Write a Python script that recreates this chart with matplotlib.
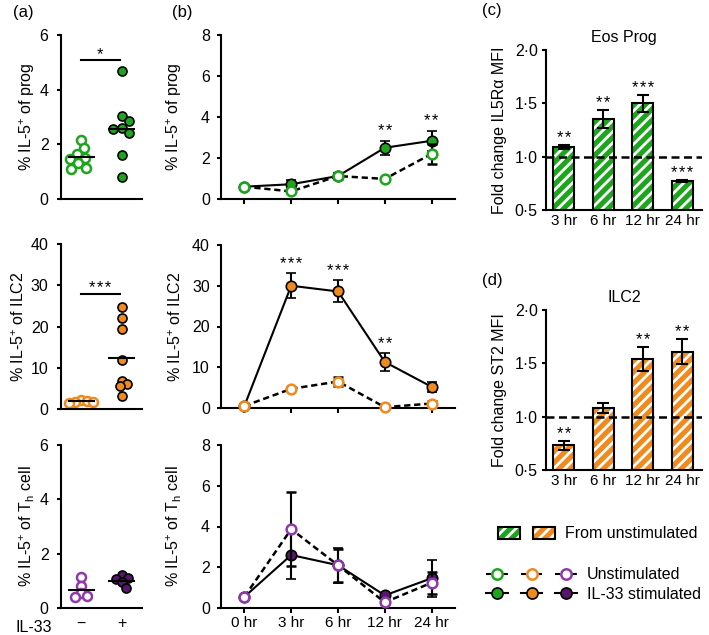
import numpy as np
import matplotlib
matplotlib.use('agg')
import matplotlib.pyplot as plt
from matplotlib.patches import Patch
from matplotlib.lines import Line2D
from matplotlib.legend_handler import HandlerTuple

plt.rcParams['font.family'] = ['Liberation Sans', 'DejaVu Sans']
plt.rcParams['mathtext.fontset'] = 'custom'
plt.rcParams['mathtext.rm'] = 'Liberation Sans'
plt.rcParams['mathtext.it'] = 'Liberation Sans:italic'
plt.rcParams['mathtext.bf'] = 'Liberation Sans:bold'
plt.rcParams['font.size'] = 11
plt.rcParams['axes.linewidth'] = 1.5
plt.rcParams['hatch.linewidth'] = 2.0

green = '#1ea51e'
orange = '#f08a1c'
purple = '#8e3aa8'
dark_purple = '#55166b'

# (a) single mice, % IL-5+
prog_unstim = [2.15, 1.85, 1.65, 1.5, 1.45, 1.3, 1.15, 1.1]
prog_il33 = [4.7, 3.05, 2.85, 2.6, 2.55, 2.4, 1.6, 0.8]
ilc2_unstim = [2.3, 2.0, 1.8, 1.6, 1.5]
ilc2_il33 = [24.8, 22.0, 19.3, 12.0, 6.9, 6.0, 5.5, 3.2]
th_unstim = [1.15, 0.8, 0.55, 0.45, 0.4]
th_il33 = [1.2, 1.1, 1.05, 0.95, 0.75]

# (b) time course
times = ['0 hr', '3 hr', '6 hr', '12 hr', '24 hr']
prog_t_il33 = [0.6, 0.72, 1.12, 2.5, 2.84]
prog_t_il33_err = [0.05, 0.2, 0.15, 0.35, 0.5]
prog_t_unstim = [0.6, 0.37, 1.12, 0.98, 2.2]
prog_t_unstim_err = [0.05, 0.05, 0.12, 0.05, 0.5]
prog_t_stars = ['', '', '', '**', '**']

ilc2_t_il33 = [0.5, 30.0, 28.6, 11.3, 5.2]
ilc2_t_il33_err = [0.2, 3.1, 2.7, 2.2, 1.2]
ilc2_t_unstim = [0.5, 4.7, 6.5, 0.2, 1.1]
ilc2_t_unstim_err = [0.2, 0.4, 1.2, 0.2, 0.6]
ilc2_t_stars = ['', '***', '***', '**', '']

th_t_il33 = [0.55, 2.6, 2.1, 0.62, 1.46]
th_t_il33_err = [0.05, 1.17, 0.85, 0.1, 0.9]
th_t_unstim = [0.55, 3.87, 2.1, 0.28, 1.24]
th_t_unstim_err = [0.05, 1.83, 0.8, 0.1, 0.55]

# (c), (d) fold change of MFI vs unstimulated
bar_times = ['3 hr', '6 hr', '12 hr', '24 hr']
eos_fold = [1.09, 1.35, 1.50, 0.77]
eos_err = [0.02, 0.085, 0.08, 0.01]
eos_stars = ['**', '**', '***', '***']
st2_fold = [0.73, 1.08, 1.54, 1.61]
st2_err = [0.04, 0.045, 0.11, 0.12]
st2_stars = ['**', '', '**', '**']
bar_ticks = [0.5, 1.0, 1.5, 2.0]

W, H = 709, 635
fig = plt.figure(figsize=(W / 100, H / 100), dpi=100)

TICK_FS = 11.5
LABEL_FS = 11.5
STAR_FS = 12


def add_ax(l, r, t, b):
    return fig.add_axes([l / W, 1 - b / H, (r - l) / W, (b - t) / H])


def style(ax, pad):
    ax.spines['top'].set_visible(False)
    ax.spines['right'].set_visible(False)
    ax.tick_params(direction='out', width=1.5, length=3, pad=pad, labelsize=TICK_FS)


def stars_text(s):
    return '\u200a'.join(s)


def swarm(ax, vals, x0, d):
    # simple beeswarm: shift each point sideways until it no longer overlaps
    placed = []
    xs = []
    inv = ax.transData.inverted()
    steps = [0] + [s * k for k in range(1, 40) for s in (1, -1)]
    for v in vals:
        px, py = ax.transData.transform((x0, v))
        for st in steps:
            cx = px + st
            if all((cx - qx) ** 2 + (py - qy) ** 2 >= d * d for qx, qy in placed):
                break
        placed.append((cx, py))
        xs.append(inv.transform((cx, py))[0])
    return xs


def scatter_panel(ax, unstim, stim, edge, fill, ymax, yticks, ylabel, lab_x, bracket=None, d=8.5):
    style(ax, 6)
    ax.set_xlim(0.5, 2.5)
    ax.set_ylim(0, ymax)
    ax.set_yticks(yticks)
    ax.tick_params(axis='x', length=0)
    xs = swarm(ax, unstim, 1, d)
    ax.plot(xs, unstim, 'o', ms=6.5, mfc='white', mec=edge, mew=1.8, clip_on=False, zorder=2)
    xs = swarm(ax, stim, 2, d)
    ax.plot(xs, stim, 'o', ms=6.5, mfc=fill, mec='black', mew=1.2, clip_on=False, zorder=2)
    for pos, vals in [(1, unstim), (2, stim)]:
        ax.hlines(np.mean(vals), pos - 0.33, pos + 0.33, color='black', lw=1.5, zorder=3)
    if bracket is not None:
        yb, txt = bracket
        ax.plot([1.0, 1.95], [yb, yb], color='black', lw=1.5)
        ax.annotate(stars_text(txt), (1.47, yb), xytext=(0, 0.5), textcoords='offset points',
                    ha='center', va='baseline', fontsize=STAR_FS)
    ax.set_ylabel(ylabel, fontsize=LABEL_FS)
    ax.yaxis.set_label_coords(lab_x, 0.5)


a1 = add_ax(61, 142, 35, 199)
scatter_panel(a1, prog_unstim, prog_il33, green, green, 6, [0, 2, 4, 6],
              '% IL-5$^{+}$ of prog', -0.3, (5.1, '*'))
a1.set_xticks([])
a2 = add_ax(61, 142, 244, 409)
scatter_panel(a2, ilc2_unstim, ilc2_il33, orange, orange, 40, [0, 10, 20, 30, 40],
              '% IL-5$^{+}$ of ILC2', -0.42, (27.9, '***'), d=6)
a2.set_xticks([])
a3 = add_ax(61, 142, 445, 608)
scatter_panel(a3, th_unstim, th_il33, purple, dark_purple, 6, [0, 2, 4, 6],
              '% IL-5$^{+}$ of T$_{\\mathrm{h}}$ cell', -0.3, d=6.5)
a3.set_xticks([1, 2])
a3.set_xticklabels(['\u2212', '+'])
a3.tick_params(axis='x', pad=6)
a3.text(-0.11, -0.117, 'IL-33', transform=a3.transAxes, ha='right', va='center', fontsize=TICK_FS)

xt = np.arange(len(times))


def time_panel(ax, stim, stim_err, unstim, unstim_err, edge, fill, ymax, ylabel, stars=None):
    style(ax, 5)
    ax.set_xlim(-0.5, 4.5)
    ax.set_ylim(0, ymax)
    ax.set_yticks(np.linspace(0, ymax, 5))
    ax.set_xticks(xt)
    ax.tick_params(axis='x', length=3.6, pad=2)
    ax.errorbar(xt, stim, yerr=stim_err, color='black', lw=1.5, marker='o', ms=7.5,
                mfc=fill, mec='black', mew=1.2, capsize=3.5, elinewidth=1.5, capthick=1.5,
                clip_on=False, zorder=3)
    ax.errorbar(xt, unstim, yerr=unstim_err, color='black', lw=1.8, ls=(0, (2.5, 1.5)),
                marker='o', ms=7, mfc='white', mec=edge, mew=1.8, capsize=3.5,
                elinewidth=1.5, capthick=1.5, clip_on=False, zorder=4)
    if stars is not None:
        for i, s in enumerate(stars):
            if s:
                top = max(stim[i] + stim_err[i], unstim[i] + unstim_err[i])
                ax.annotate(stars_text(s), (xt[i], top), xytext=(0, 3.2), textcoords='offset points',
                            ha='center', va='baseline', fontsize=STAR_FS)
    ax.set_ylabel(ylabel, fontsize=LABEL_FS)
    ax.yaxis.set_label_coords(-0.16, 0.5)


b1 = add_ax(221, 455, 35, 199)
time_panel(b1, prog_t_il33, prog_t_il33_err, prog_t_unstim, prog_t_unstim_err, green, green, 8,
           '% IL-5$^{+}$ of prog', prog_t_stars)
b1.set_xticklabels([])
b2 = add_ax(221, 455, 245, 408)
time_panel(b2, ilc2_t_il33, ilc2_t_il33_err, ilc2_t_unstim, ilc2_t_unstim_err, orange, orange, 40,
           '% IL-5$^{+}$ of ILC2', ilc2_t_stars)
b2.set_xticklabels([])
b3 = add_ax(221, 455, 445, 608)
time_panel(b3, th_t_il33, th_t_il33_err, th_t_unstim, th_t_unstim_err, purple, dark_purple, 8,
           '% IL-5$^{+}$ of T$_{\\mathrm{h}}$ cell')
b3.set_xticklabels(times, fontsize=11)

bx = np.arange(len(bar_times))


def bar_panel(ax, vals, err, stars, color, title, ylabel):
    style(ax, 3)
    ax.bar(bx, vals, 0.53, color=color, edgecolor='white', hatch='///', lw=0, zorder=2)
    ax.bar(bx, vals, 0.53, facecolor='none', edgecolor='black', lw=1.5, zorder=3)
    ax.errorbar(bx, vals, yerr=err, fmt='none', ecolor='black', elinewidth=1.5,
                capsize=4, capthick=1.5, zorder=4)
    ax.axhline(1.0, color='black', lw=1.8, ls=(0, (3.2, 1.8)), zorder=5)
    for i, s in enumerate(stars):
        if s:
            ax.annotate(stars_text(s), (bx[i], vals[i] + err[i]), xytext=(0, 1.5),
                        textcoords='offset points', ha='center', va='baseline', fontsize=STAR_FS)
    ax.set_xlim(-0.45, 3.5)
    ax.set_ylim(0.5, 2.0)
    ax.set_yticks(bar_ticks)
    ax.set_yticklabels([f'{t:.1f}'.replace('.', '\u00b7') for t in bar_ticks])
    ax.set_xticks(bx)
    ax.set_xticklabels(bar_times, fontsize=11)
    ax.tick_params(axis='x', length=0, pad=3)
    ax.set_title(title, fontsize=11.5, pad=6)
    ax.set_ylabel(ylabel, fontsize=LABEL_FS)
    ax.yaxis.set_label_coords(-0.25, 0.5)


c = add_ax(546, 702, 50, 210)
bar_panel(c, eos_fold, eos_err, eos_stars, green, 'Eos Prog', 'Fold change IL5R\u03b1 MFI')
d = add_ax(546, 702, 310, 470)
bar_panel(d, st2_fold, st2_err, st2_stars, orange, 'ILC2', 'Fold change ST2 MFI')

for lab, px, py in [('(a)', 13, 12), ('(b)', 172, 12), ('(c)', 482, 10), ('(d)', 482, 280)]:
    fig.text(px / W, 1 - py / H, lab, ha='left', va='center', fontsize=12)

# legends
gpatch = (Patch(facecolor=green, edgecolor='white', hatch='///', lw=0),
          Patch(facecolor='none', edgecolor='black', lw=1.5))
opatch = (Patch(facecolor=orange, edgecolor='white', hatch='///', lw=0),
          Patch(facecolor='none', edgecolor='black', lw=1.5))
patches = (gpatch, opatch)
fig.legend([patches], ['From unstimulated'],
           handler_map={patches: HandlerTuple(ndivide=None, pad=0.81)},
           loc='center left', bbox_to_anchor=(498 / W, 1 - 534 / H), frameon=False,
           borderpad=0, borderaxespad=0, handlelength=3.56, handletextpad=0.62, fontsize=11.5)

un_lines = tuple(Line2D([], [], color='black', lw=1.5, ls=(0, (2.5, 1.5)), marker='o', ms=7.5,
                        mfc='white', mec=col, mew=1.8) for col in [green, orange, purple])
st_lines = tuple(Line2D([], [], color='black', lw=1.5, marker='o', ms=8,
                        mfc=col, mec='black', mew=1.2) for col in [green, orange, dark_purple])
fig.legend([un_lines, st_lines], ['Unstimulated', 'IL-33 stimulated'],
           handler_map={un_lines: HandlerTuple(ndivide=None, pad=0.81),
                        st_lines: HandlerTuple(ndivide=None, pad=0.81)},
           loc='center left', bbox_to_anchor=(486 / W, 1 - 584.5 / H), frameon=False,
           borderpad=0, borderaxespad=0, handlelength=5.7, handletextpad=0.62,
           labelspacing=0.3, fontsize=11.5)

fig.savefig('out.png', dpi=100)
